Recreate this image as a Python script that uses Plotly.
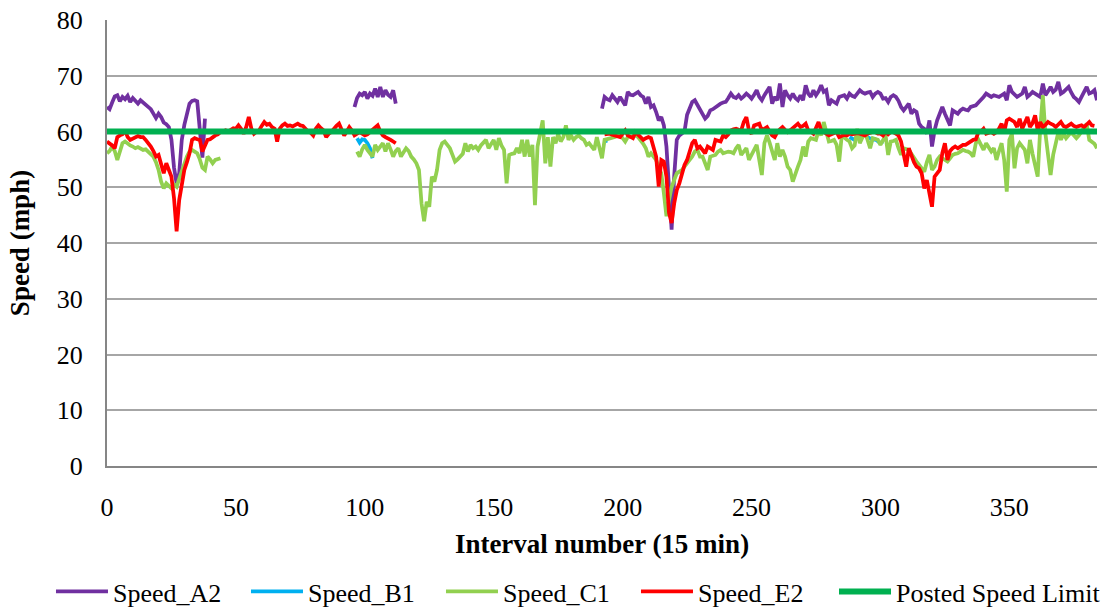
import plotly.graph_objects as go

# Speed readings per 15-minute interval; each series is a list of
# (first interval, consecutive values) segments, gaps between segments.
speed_a2 = [
    (0, [64.4, 64.0, 65.2, 66.3, 66.5, 65.4, 66.2, 65.8, 66.4, 65.3,
         66.0, 65.5, 65.0, 65.6, 65.2, 64.9, 64.6, 64.0, 63.2, 62.4,
         63.2, 62.6, 61.6, 61.3, 60.8, 58.5, 53.5, 50.7, 52.5, 58.5,
         61.2, 63.5, 65.0, 65.5, 65.6, 65.4, 61.0, 55.3, 62.3]),
    (96, [64.4, 66.0, 66.8, 66.5,
          67.1, 65.9, 66.8, 66.4, 67.7, 66.2, 68.0, 66.2, 67.4, 66.6,
          66.2, 67.4, 65.0]),
    (192, [64.1, 66.2, 65.8, 65.6, 66.5, 65.8, 65.3, 66.2,
           65.5, 64.7, 67.1, 66.6, 66.5, 66.8, 67.1, 66.5, 66.2, 65.0,
           66.2, 64.4, 64.7, 63.5, 62.0, 62.6, 61.1, 57.3, 50.0, 42.4,
           52.0, 58.5, 59.3, 59.6, 60.0, 63.0, 64.1, 65.3, 65.6, 64.8,
           64.0, 63.2, 62.3, 62.8, 63.8, 64.0, 64.4, 64.7, 65.0, 65.2,
           65.3, 66.0, 66.8, 66.2, 66.0, 66.5, 65.9, 66.3, 66.8, 66.4,
           65.9, 66.6, 67.4, 66.2, 65.6, 66.5, 67.2, 68.0, 65.0, 66.2,
           65.6, 68.6, 64.4, 67.4, 66.5, 65.9, 66.8, 66.0, 65.6, 66.5,
           65.6, 68.3, 66.8, 66.2, 67.4, 66.5, 67.2, 68.3, 67.1, 67.4,
           64.7, 65.6, 65.3, 65.0, 66.2, 66.3, 66.5, 65.9, 66.8, 66.4,
           66.2, 66.8, 67.4, 67.0, 66.8, 67.0, 67.1, 66.2, 66.8, 67.1,
           66.8, 65.9, 66.0, 65.3, 66.2, 66.5, 66.2, 65.5, 64.4, 63.8,
           64.4, 65.0, 63.2, 63.8, 63.5, 61.4, 60.8, 60.5, 59.6, 62.0,
           57.3, 60.2, 62.0, 63.0, 64.4, 63.2, 62.0, 61.1, 63.8, 63.5,
           63.2, 63.8, 64.1, 63.9, 63.8, 64.4, 64.6, 64.7, 65.2, 65.6,
           66.2, 66.8, 66.4, 66.2, 66.5, 66.4, 66.2, 66.5, 66.8, 65.6,
           68.3, 67.1, 66.6, 66.2, 66.5, 66.8, 68.0, 66.2, 66.6, 67.1,
           66.8, 66.4, 66.2, 68.6, 66.5, 67.2, 68.0, 67.1, 67.5, 68.9,
           66.8, 67.1, 67.5, 68.0, 67.0, 66.2, 65.8, 65.3, 66.2, 67.1,
           68.0, 66.8, 67.0, 67.4, 65.6]),
]

speed_b1 = [
    (97, [58.8, 58.0, 58.6, 58.5, 57.9, 57.0, 55.2]),
    (193, [58.2, 58.4]),
    (288, [59.0, 58.8, 58.5, 58.9, 59.0, 59.3, 59.6, 59.0, 58.8, 58.5,
           58.6, 58.2, 57.9, 58.2]),
]

speed_c1 = [
    (0, [56.1, 56.5, 57.3, 56.5, 54.9, 56.5, 57.9, 58.2, 57.8, 57.5,
         57.3, 57.0, 57.2, 56.9, 56.7, 56.8, 56.4, 56.0, 55.5, 54.5,
         53.1, 51.0, 49.8, 50.7, 50.2, 49.8, 50.5, 50.1, 51.5, 53.0,
         54.3, 55.5, 56.4, 56.7, 56.4, 56.1, 55.0, 53.5, 53.1, 55.5,
         55.0, 54.3, 54.9, 55.0, 55.2]),
    (97, [56.4, 55.5, 56.8,
          57.6, 56.7, 56.0, 55.5, 57.6, 56.7, 57.3, 57.9, 56.4, 57.9,
          56.8, 55.5, 56.5, 57.0, 55.5, 56.4, 57.0, 56.5, 55.5, 55.0,
          54.3, 53.1, 47.1, 43.9, 47.4, 46.5, 51.9, 51.0, 53.1, 56.7,
          57.9, 58.2, 57.6, 57.0, 55.8, 54.6, 55.0, 55.5, 56.0, 57.9,
          56.4, 57.6, 57.0, 57.3, 56.7, 57.5, 58.0, 58.5, 57.0, 57.8,
          58.5, 56.7, 58.8, 57.5, 56.7, 50.7, 55.8, 56.0, 56.1, 57.0,
          56.1, 58.5, 55.5, 58.5, 55.5, 57.6, 46.8, 57.3, 59.6, 62.0,
          54.3, 59.0, 53.7, 59.0, 57.9, 59.6, 58.2, 59.0, 61.1, 58.5,
          59.3, 58.5, 59.0, 59.3, 58.8, 58.5, 57.6, 57.9, 57.3, 56.7,
          59.0, 57.0, 55.2, 58.5, 58.6, 58.8, 58.9, 59.0, 59.2, 59.3,
          58.8, 58.2, 59.0, 59.1, 59.2, 59.3, 59.0, 58.5, 57.8, 57.0,
          55.5, 56.1, 55.5, 54.9, 53.5, 52.5, 48.9, 44.8, 47.7, 50.0,
          51.3, 52.5, 52.8, 53.1, 53.7, 54.3, 55.0, 55.5, 56.4, 56.7,
          55.5, 55.5, 54.3, 53.1, 55.5, 55.6, 55.8, 56.4, 56.7, 56.1,
          56.2, 56.4, 56.3, 56.1, 57.0, 57.6, 55.8, 56.5, 57.0, 54.9,
          56.0, 56.7, 57.6, 54.6, 52.2, 57.9, 59.3, 58.0, 56.1, 54.9,
          57.9, 55.5, 56.7, 55.5, 53.7, 53.1, 51.0, 52.5, 53.7, 54.9,
          57.3, 55.5, 58.2, 58.8, 58.6, 58.5, 60.2, 59.3, 61.7, 59.9,
          58.2, 58.3, 58.5, 57.6, 54.6, 59.3, 58.8, 58.5, 58.2, 57.0,
          57.5, 60.5, 57.9, 58.8, 59.9, 58.5, 57.0, 58.8, 58.6, 58.5,
          57.6, 58.5, 59.3, 55.8, 58.2, 58.3, 58.5, 57.0, 55.8, 57.0,
          56.8, 56.7, 56.0, 55.2, 54.6, 54.0, 53.4, 52.8, 54.5, 55.8,
          53.1, 53.7, 54.9, 55.5, 55.2, 54.9, 54.6, 55.2, 55.8, 56.0,
          56.1, 56.4, 56.7, 56.5, 56.4, 56.1, 55.5, 57.9, 58.5, 57.6,
          56.7, 57.9, 57.0, 56.4, 57.0, 54.9, 56.5, 57.9, 54.9, 49.2,
          58.5, 59.6, 53.4, 57.0, 57.9, 57.3, 56.7, 54.3, 58.5, 56.0,
          53.7, 51.9, 60.8, 66.5, 59.6, 55.5, 52.2, 55.8, 57.9, 59.9,
          58.5, 59.6, 58.8, 59.5, 59.9, 59.3, 58.8, 59.3, 60.0, 60.6,
          61.4, 58.5, 58.2, 57.8, 57.0]),
]

speed_e2 = [
    (0, [58.2, 57.9, 57.5, 57.0, 59.0, 59.3, 59.5, 60.2, 59.0, 58.5,
         58.8, 59.0, 59.2, 59.0, 59.0, 58.5, 58.0, 57.3, 56.5, 55.5,
         55.8, 54.3, 52.5, 54.3, 53.0, 51.9, 48.0, 42.1, 47.7, 50.7,
         53.1, 54.5, 56.1, 58.5, 58.8, 58.6, 58.5, 56.4, 57.3, 58.5,
         58.6, 59.0, 59.3, 59.5, 59.9, 60.0, 60.2, 60.0, 60.4, 60.6,
         60.5, 61.1, 60.5, 59.6, 60.8, 62.6, 60.5, 59.6, 60.0, 60.2,
         61.0, 61.7, 61.2, 61.4, 60.8, 60.5, 58.2, 60.5, 61.1, 61.4,
         61.0, 61.1, 60.9, 61.2, 61.4, 61.1, 61.0, 60.5, 60.0, 59.8,
         59.3, 60.5, 61.1, 60.6, 60.2, 59.0, 59.6, 59.9, 60.5, 61.0,
         61.4, 60.2, 59.3, 60.0, 60.8, 60.2, 59.3, 59.6, 59.9, 59.6,
         59.3, 59.5, 59.9, 60.2, 60.5, 61.1, 60.0, 59.3, 59.0, 58.8,
         58.5, 58.2, 57.9]),
    (193, [59.5, 59.6, 59.6, 59.4, 59.3, 59.2, 59.0,
           59.6, 60.2, 59.3, 59.0, 58.8, 59.9, 59.5, 59.0, 58.5, 58.8,
           59.0, 58.8, 57.3, 55.5, 50.1, 54.9, 54.6, 51.9, 45.4, 43.6,
           47.1, 49.5, 50.7, 52.5, 54.0, 54.9, 56.4, 57.9, 58.5, 57.0,
           57.3, 56.8, 56.1, 57.3, 57.0, 56.7, 58.5, 58.3, 58.2, 59.3,
           59.0, 59.5, 60.2, 60.4, 60.5, 60.3, 60.2, 61.7, 62.6, 60.2,
           59.6, 61.1, 61.2, 61.4, 60.2, 60.5, 60.8, 60.0, 59.3, 59.0,
           59.9, 60.4, 60.8, 60.3, 59.9, 60.2, 60.5, 61.0, 61.4, 60.8,
           61.0, 61.4, 60.2, 60.0, 59.6, 60.6, 61.7, 60.2, 59.8, 59.6,
           59.3, 59.5, 59.8, 59.9, 59.0, 59.2, 59.4, 59.3, 59.6, 59.5,
           59.6, 59.7, 59.6, 59.4, 59.3, 59.6, 59.8, 59.9, 59.9, 59.6,
           59.6, 59.3, 59.9, 59.5, 59.9, 59.9, 59.6, 59.3, 58.2, 56.0,
           53.7, 57.0, 55.5, 54.5, 53.7, 53.4, 52.5, 49.8, 51.3, 48.5,
           46.5, 51.9, 52.5, 53.1, 56.1, 57.9, 54.9, 56.5, 57.0, 57.3,
           57.0, 57.4, 57.6, 57.6, 57.9, 58.2, 58.5, 58.6, 59.9, 60.0,
           60.5, 59.6, 59.8, 59.9, 59.6, 59.9, 60.5, 61.4, 59.9, 62.0,
           62.3, 62.0, 61.7, 60.8, 62.3, 60.5, 61.5, 62.6, 60.8, 61.5,
           62.9, 60.2, 61.7, 60.8, 61.2, 61.7, 61.4, 61.2, 60.8, 61.2,
           61.7, 61.0, 60.8, 61.1, 61.4, 61.0, 60.8, 61.0, 61.1, 60.8,
           61.2, 61.7, 61.1, 61.0]),
]

posted_speed_limit = 60
interval_span = [0, 384]

x_ticks = [0, 50, 100, 150, 200, 250, 300, 350]
y_ticks = [0, 10, 20, 30, 40, 50, 60, 70, 80]

FONT = "Liberation Serif"


def flatten(segments):
    """Join segments into x/y lists with a None break between them."""
    xs, ys = [], []
    for start, values in segments:
        if xs:
            xs.append(None)
            ys.append(None)
        xs.extend(range(start, start + len(values)))
        ys.extend(values)
    return xs, ys


series = [
    ("Speed_A2", speed_a2, "#7030A0"),
    ("Speed_B1", speed_b1, "#00B0F0"),
    ("Speed_C1", speed_c1, "#92D050"),
    ("Speed_E2", speed_e2, "#FF0000"),
]

fig = go.Figure()
for name, segments, color in series:
    xs, ys = flatten(segments)
    fig.add_trace(go.Scatter(
        x=xs, y=ys, mode="lines", name=name, connectgaps=False,
        line=dict(color=color, width=3.75), legend="legend",
    ))

# The speed limit entry sits in its own legend so its longer label
# is not squeezed into the fixed-width slots of the station entries.
fig.add_trace(go.Scatter(
    x=interval_span, y=[posted_speed_limit] * len(interval_span),
    mode="lines", name="Posted Speed Limit",
    line=dict(color="#00B050", width=6), legend="legend2",
))

tick_font = dict(family=FONT, size=26, color="black", weight="normal")
title_font = dict(family=FONT, size=27, color="black", weight="bold")

legend_common = dict(
    orientation="h", xref="container",
    yref="container", y=0.0, yanchor="bottom",
    font=tick_font, bgcolor="rgba(0,0,0,0)",
    itemwidth=52, tracegroupgap=0,
)

fig.update_layout(
    template="none",
    width=1106, height=615,
    margin=dict(l=107, r=9, t=20, b=149, autoexpand=False),
    paper_bgcolor="white", plot_bgcolor="white",
    font=dict(family=FONT, size=26, color="black"),
    showlegend=True,
    legend=dict(legend_common, x=0.0461, xanchor="left",
                entrywidth=128, entrywidthmode="pixels"),
    legend2=dict(legend_common, x=1.0, xanchor="right"),
    xaxis=dict(
        range=interval_span, tickvals=x_ticks,
        showgrid=False, zeroline=False,
        showline=True, linecolor="#868686", linewidth=2,
        ticks="", ticklabelstandoff=17,
        tickfont=tick_font,
        title=dict(text="Interval number (15 min)", standoff=13, font=title_font),
    ),
    yaxis=dict(
        range=[0, 80], tickvals=y_ticks,
        showgrid=True, gridcolor="#a6a6a6", gridwidth=1.5,
        zeroline=False,
        showline=True, linecolor="#868686", linewidth=2,
        ticks="", ticklabelstandoff=17,
        tickfont=tick_font,
        title=dict(text="Speed (mph)", standoff=19, font=title_font),
    ),
)

fig.write_html("out.html")
